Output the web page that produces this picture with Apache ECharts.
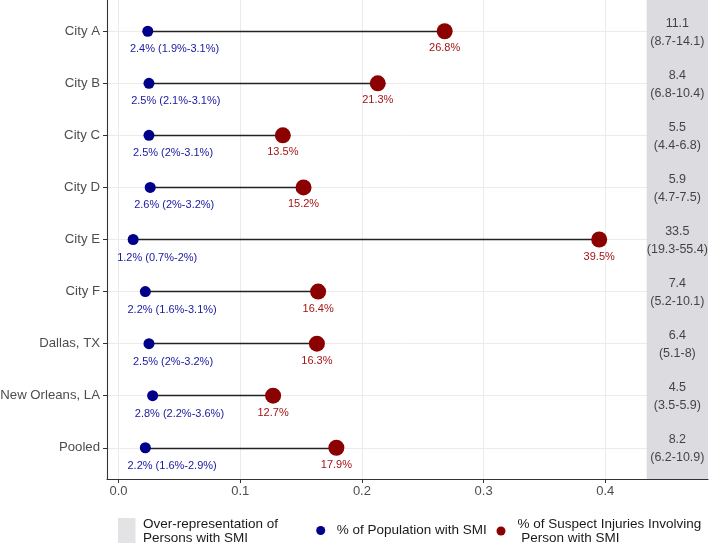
<!DOCTYPE html>
<html>
<head>
<meta charset="utf-8">
<script src="https://cdn.jsdelivr.net/npm/echarts@6/dist/echarts.min.js"></script>
<style>
html,body{margin:0;padding:0;background:#fff;}
#chart{width:709px;height:543px;}
</style>
</head>
<body>
<div id="chart"></div>
<script>
const categories = ['City A','City B','City C','City D','City E','City F','Dallas, TX','New Orleans, LA','Pooled'];
const popPct  = [2.4, 2.5, 2.5, 2.6, 1.2, 2.2, 2.5, 2.8, 2.2];
const popLow  = [1.9, 2.1, 2,   2,   0.7, 1.6, 2,   2.2, 1.6];
const popHigh = [3.1, 3.1, 3.1, 3.2, 2,   3.1, 3.2, 3.6, 2.9];
const injPct  = [26.8, 21.3, 13.5, 15.2, 39.5, 16.4, 16.3, 12.7, 17.9];
const ratio     = [11.1, 8.4, 5.5, 5.9, 33.5, 7.4, 6.4, 4.5, 8.2];
const ratioLow  = [8.7, 6.8, 4.4, 4.7, 19.3, 5.2, 5.1, 3.5, 6.2];
const ratioHigh = [14.1, 10.4, 6.8, 7.5, 55.4, 10.1, 8, 5.9, 10.9];
const xTicks = [0, 0.1, 0.2, 0.3, 0.4];

const X_MIN = -0.0095, X_MAX = 0.4844, BAND_START = 0.434;
const Y_MIN = 0.4, Y_MAX = 9.6;
const FONT = '"Liberation Sans", Arial, sans-serif';
const NAME_BAND = 'Over-representation of\nPersons with SMI';
const NAME_POP = '% of Population with SMI';
const NAME_INJ = '% of Suspect Injuries Involving\n Person with SMI';

const yPos = categories.map((c, i) => i + 1);

const ctx = document.createElement('canvas').getContext('2d');
ctx.font = '11px "Liberation Sans"';
function textW(s) { return ctx.measureText(s).width; }

const popLabels = popPct.map((p, i) => p + '% (' + popLow[i] + '%-' + popHigh[i] + '%)');

const popData = popPct.map((p, i) => ({
  value: [p / 100, yPos[i]],
  label: { formatter: popLabels[i], offset: [0.3 * textW(popLabels[i]), 18] }
}));
const injData = injPct.map((p, i) => ({
  value: [p / 100, yPos[i]],
  label: { formatter: p + '%', offset: [0, 17] }
}));
const segData = popPct.map((p, i) => ({ coords: [[p / 100, yPos[i]], [injPct[i] / 100, yPos[i]]] }));
const ratioData = ratio.map((r, i) => ({
  value: [(BAND_START + X_MAX) / 2, yPos[i]],
  label: { formatter: r + '\n(' + ratioLow[i] + '-' + ratioHigh[i] + ')' }
}));

const gridData = xTicks.map(v => ({ coords: [[v, Y_MIN], [v, Y_MAX]] }))
  .concat(yPos.map(v => ({ coords: [[X_MIN, v], [X_MAX, v]] })));

const legendText = { fontSize: 13.5, lineHeight: 14, color: '#1a1a1a', fontFamily: FONT };

const chart = echarts.init(document.getElementById('chart'), null, { renderer: 'canvas' });
chart.setOption({
  animation: false,
  textStyle: { fontFamily: FONT },
  grid: { left: 107, right: 1, top: 0, bottom: 64, containLabel: false, outerBoundsMode: 'none' },
  xAxis: {
    type: 'value', min: X_MIN, max: X_MAX,
    axisLine: { show: true, onZero: false, lineStyle: { color: '#333', width: 1.1 } },
    axisTick: { show: true, length: 4, customValues: xTicks, lineStyle: { color: '#333' } },
    axisLabel: { customValues: xTicks, formatter: v => v.toFixed(1), fontSize: 13, color: '#4d4d4d', margin: 6, fontFamily: FONT },
    splitLine: { show: false }
  },
  yAxis: {
    type: 'value', inverse: true, min: Y_MIN, max: Y_MAX,
    axisLine: { show: true, onZero: false, lineStyle: { color: '#333', width: 1.1 } },
    axisTick: { show: true, length: 4, customValues: yPos, lineStyle: { color: '#333' } },
    axisLabel: { customValues: yPos, formatter: v => categories[Math.round(v) - 1] || '', fontSize: 13.2, color: '#4d4d4d', margin: 7, fontFamily: FONT },
    splitLine: { show: false }
  },
  legend: [
    { left: 118, top: 517, padding: 0, itemWidth: 17.5, itemHeight: 26, selectedMode: false, icon: 'rect',
      data: [NAME_BAND], textStyle: Object.assign({ padding: [0, 0, 0, 2.5] }, legendText) },
    { left: 316.2, top: 523.5, padding: 0, itemWidth: 9, itemHeight: 9, selectedMode: false, icon: 'circle',
      data: [NAME_POP], textStyle: Object.assign({ padding: [0, 0, 0, 6.5] }, legendText) },
    { left: 496.5, top: 517, padding: 0, itemWidth: 9, itemHeight: 9, selectedMode: false, icon: 'circle',
      data: [NAME_INJ], textStyle: Object.assign({ padding: [0, 0, 0, 7] }, legendText) }
  ],
  series: [
    { type: 'lines', name: 'grid', coordinateSystem: 'cartesian2d', data: gridData, z: 0, silent: true,
      lineStyle: { color: '#ebebeb', width: 1, opacity: 1 } },
    { type: 'scatter', name: NAME_BAND, data: [], z: 1, silent: true, itemStyle: { color: '#dcdce0' },
      markArea: { silent: true, z: 1, itemStyle: { color: '#dcdce0' },
        data: [[{ xAxis: BAND_START, yAxis: Y_MIN }, { xAxis: X_MAX, yAxis: Y_MAX }]] } },
    { type: 'lines', coordinateSystem: 'cartesian2d', data: segData, z: 3, silent: true,
      lineStyle: { color: '#222', width: 1.3, opacity: 1 } },
    { type: 'scatter', name: NAME_POP, data: popData, z: 4, symbolSize: 11, silent: true,
      itemStyle: { color: '#00008B', opacity: 1 },
      label: { show: true, position: 'inside', fontSize: 11, color: '#1818a0', fontFamily: FONT } },
    { type: 'scatter', name: NAME_INJ, data: injData, z: 4, symbolSize: 16, silent: true,
      itemStyle: { color: '#8B0000', opacity: 1 },
      label: { show: true, position: 'inside', fontSize: 11, color: '#a31515', fontFamily: FONT } },
    { type: 'scatter', name: 'ratio', data: ratioData, z: 5, symbolSize: 0, silent: true,
      label: { show: true, position: 'inside', offset: [0, 1], fontSize: 12.5, lineHeight: 18, color: '#1a1a1a', fontFamily: FONT } }
  ]
});
</script>
</body>
</html>
